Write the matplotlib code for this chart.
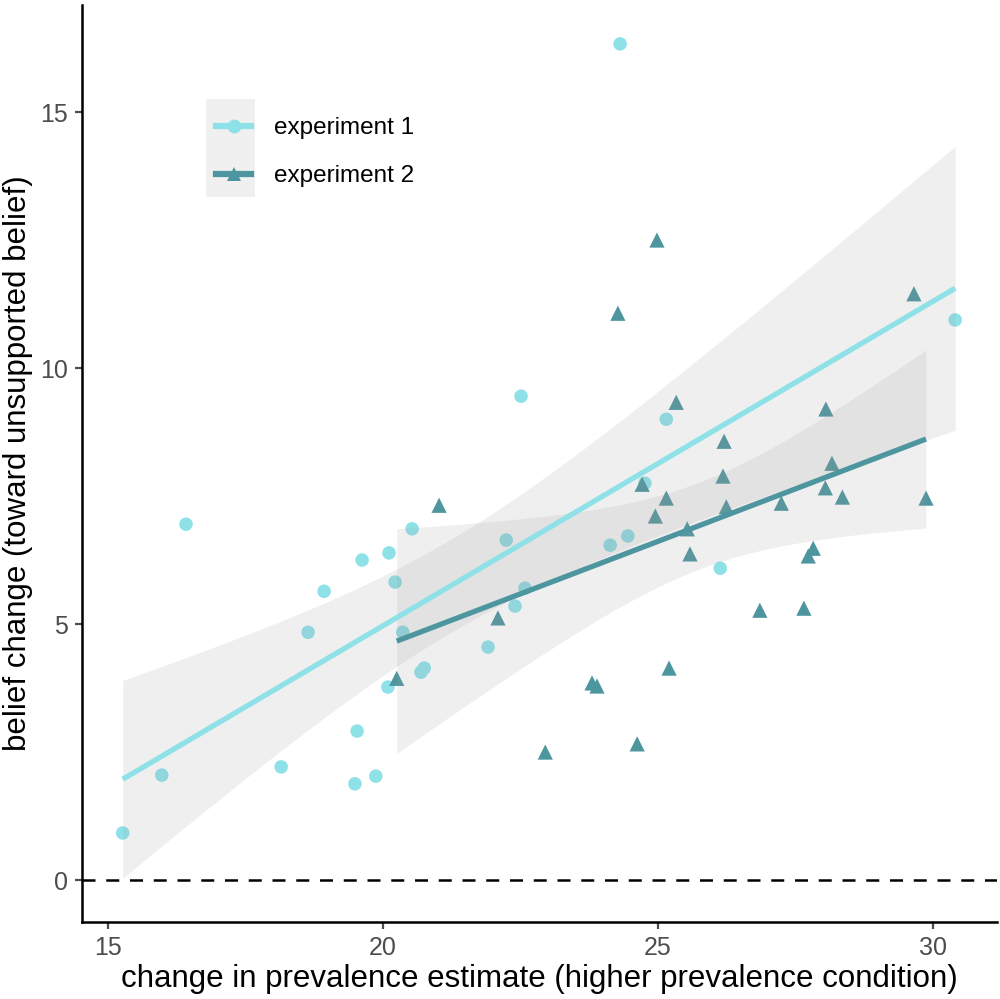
import numpy as np
import matplotlib
matplotlib.use("Agg")
import matplotlib.pyplot as plt
from matplotlib.lines import Line2D
from matplotlib.patches import Rectangle

plt.rcParams['font.family'] = ['Liberation Sans', 'DejaVu Sans']

# ---- data ----
exp1_x = [15.27, 15.98, 16.42, 18.15, 18.64, 18.93, 19.49, 19.53, 19.62, 19.87,
          20.09, 20.11, 20.22, 20.36, 20.53, 20.69, 20.75, 21.91, 22.24, 22.40,
          22.51, 22.58, 24.13, 24.31, 24.45, 24.76, 25.15, 26.13, 30.40]
exp1_y = [0.92, 2.05, 6.95, 2.21, 4.84, 5.64, 1.88, 2.91, 6.25, 2.03,
          3.77, 6.39, 5.82, 4.84, 6.86, 4.06, 4.14, 4.55, 6.64, 5.35,
          9.45, 5.70, 6.54, 16.33, 6.72, 7.75, 9.00, 6.09, 10.94]

exp2_x = [20.25, 21.02, 22.09, 22.95, 23.80, 23.89, 24.27, 24.62, 24.71, 24.95,
          24.98, 25.15, 25.20, 25.33, 25.53, 25.58, 26.18, 26.20, 26.24, 26.85,
          27.24, 27.65, 27.73, 27.82, 28.04, 28.05, 28.16, 28.35, 29.65, 29.87]
exp2_y = [3.94, 7.32, 5.12, 2.50, 3.85, 3.79, 11.07, 2.66, 7.73, 7.11,
          12.50, 7.46, 4.14, 9.33, 6.86, 6.37, 7.89, 8.57, 7.29, 5.27,
          7.36, 5.31, 6.33, 6.48, 7.66, 9.20, 8.14, 7.48, 11.45, 7.46]

labels = ["experiment 1", "experiment 2"]
colors = ["#8FE1E8", "#4E969F"]
markers = ["o", "^"]

x_ticks = [15, 20, 25, 30]
y_ticks = [0, 5, 10, 15]


def t_quant(df, p=0.975):
    try:
        from scipy.stats import t
        return t.ppf(p, df)
    except Exception:
        z = 1.959964
        return (z + (z**3 + z) / (4 * df) + (5 * z**5 + 16 * z**3 + 3 * z) / (96 * df**2)
                + (3 * z**7 + 19 * z**5 + 17 * z**3 - 15 * z) / (384 * df**3))


def lm_fit(x, y, n=80):
    x = np.asarray(x, float)
    y = np.asarray(y, float)
    b, a = np.polyfit(x, y, 1)
    xs = np.linspace(x.min(), x.max(), n)
    fit = a + b * xs
    resid = y - (a + b * x)
    N = len(x)
    s = np.sqrt(np.sum(resid**2) / (N - 2))
    sxx = np.sum((x - x.mean())**2)
    se = s * np.sqrt(1.0 / N + (xs - x.mean())**2 / sxx)
    tq = t_quant(N - 2)
    return xs, fit, fit - tq * se, fit + tq * se


fig = plt.figure(figsize=(10, 9.99), dpi=100)
ax = fig.add_axes([0.082, 0.077, 0.915, 0.918])

data = [(exp1_x, exp1_y), (exp2_x, exp2_y)]

# points
for (xx, yy), c, m in zip(data, colors, markers):
    ax.scatter(xx, yy, s=95 if m == "o" else 120, marker=m, color=c,
               edgecolors='none', zorder=2)

# ribbons and lines
for (xx, yy), c in zip(data, colors):
    xs, fit, lo, hi = lm_fit(xx, yy)
    ax.fill_between(xs, lo, hi, color="#999999", alpha=0.15, linewidth=0, zorder=3)
for (xx, yy), c in zip(data, colors):
    xs, fit, lo, hi = lm_fit(xx, yy)
    ax.plot(xs, fit, color=c, lw=3.8, zorder=4, solid_capstyle='butt')

ax.axhline(0, color='black', lw=1.8, dashes=(5.2, 4.3), zorder=1)

ax.set_xlim(14.53, 31.16)
ax.set_ylim(-0.82, 17.09)
ax.set_xticks(x_ticks)
ax.set_yticks(y_ticks)
ax.tick_params(axis='both', labelsize=18, colors='#4D4D4D', length=5, width=1.6,
               labelcolor='#4D4D4D', pad=5)
for sp in ['top', 'right']:
    ax.spines[sp].set_visible(False)
for sp in ['left', 'bottom']:
    ax.spines[sp].set_linewidth(1.8)
    ax.spines[sp].set_color('black')

ax.set_xlabel("change in prevalence estimate (higher prevalence condition)",
              fontsize=22.5, color='black', labelpad=3)
ax.set_ylabel("belief change (toward unsupported belief)", fontsize=22.5,
              color='black', labelpad=5)

# legend
handles = [Line2D([0], [0], color=c, lw=4.5, marker=m, markersize=10,
                  markeredgewidth=0)
           for c, m in zip(colors, markers)]
leg = ax.legend(handles, labels, loc='upper left', bbox_to_anchor=(0.204, 0.895),
                bbox_transform=fig.transFigure, frameon=False, fontsize=17.5,
                handlelength=1.45, handletextpad=0.95, labelspacing=1.07,
                borderpad=0.0)
ax.add_patch(Rectangle((0.206, 0.803), 0.049, 0.098, transform=fig.transFigure,
                       facecolor='#F0F0F0', edgecolor='none', zorder=4.5,
                       clip_on=False))

fig.savefig("out.png", dpi=100)
